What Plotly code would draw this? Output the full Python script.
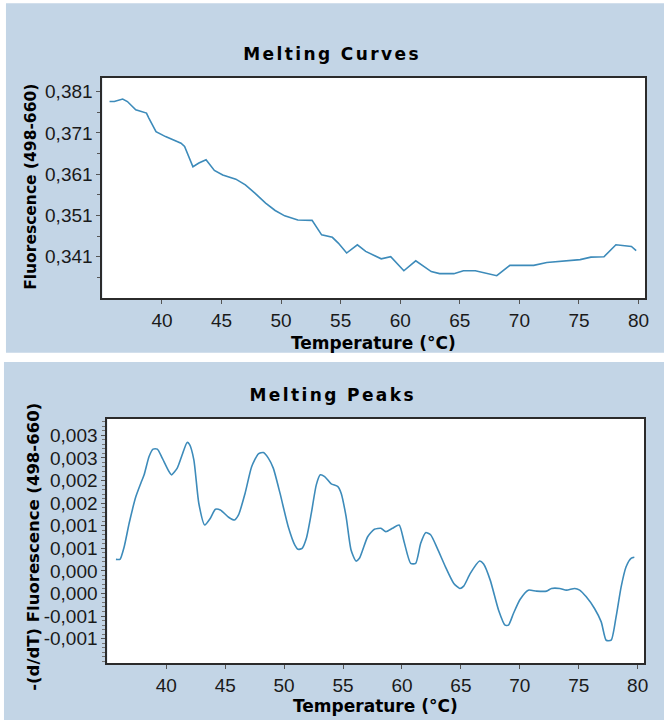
import numpy as np
import plotly.graph_objects as go

W, H = 668, 720

# ---- Melting curve: fluorescence (498-660) against temperature ----
curve_temp = [35.6, 36.0, 36.7, 37.1, 37.8, 38.7, 38.9, 39.5, 40.3, 41.6, 41.9,
              42.6, 43.1, 43.7, 44.4, 45.1, 46.2, 47.0, 47.8, 48.7, 49.5, 50.3,
              51.4, 52.6, 53.4, 54.3, 54.8, 55.5, 56.4, 57.1, 58.4, 59.2, 60.3,
              61.3, 62.6, 63.3, 64.5, 65.3, 66.3, 67.3, 68.1, 69.2, 71.2, 72.3,
              73.7, 75.1, 76.0, 77.1, 78.1, 78.9, 79.4, 79.8]
curve_fluor = [0.3786, 0.3786, 0.3792, 0.3786, 0.3766, 0.3758, 0.3746, 0.3713, 0.3701,
               0.3685, 0.3677, 0.3628, 0.3637, 0.3645, 0.3619, 0.3608, 0.3598, 0.3584,
               0.3564, 0.3540, 0.3522, 0.3509, 0.3499, 0.3498, 0.3463, 0.3457, 0.3443,
               0.3419, 0.3439, 0.3423, 0.3405, 0.3410, 0.3376, 0.3400, 0.3374, 0.3369,
               0.3369, 0.3376, 0.3376, 0.3369, 0.3364, 0.3389, 0.3389, 0.3396, 0.3399,
               0.3403, 0.3409, 0.3410, 0.3439, 0.3436, 0.3435, 0.3425]

# ---- Melting peaks: -(d/dT) fluorescence against temperature ----
peak_temp = [35.73, 36.07, 36.43, 36.85, 37.42, 37.84, 38.12, 38.54, 38.88, 39.24,
             39.66, 40.23, 40.45, 40.93, 41.35, 41.77, 41.97, 42.34, 42.76, 43.26,
             43.74, 44.17, 44.59, 45.29, 45.79, 46.13, 46.69, 47.25, 47.82, 48.24,
             48.66, 49.08, 49.65, 50.35, 50.91, 51.19, 51.53, 51.89, 52.31, 52.73,
             53.07, 53.44, 54.00, 54.56, 54.84, 55.26, 55.68, 56.10, 56.39, 57.09,
             57.66, 58.21, 58.63, 59.20, 59.76, 60.18, 60.74, 61.16, 61.59, 62.01,
             62.43, 63.00, 63.69, 64.40, 64.91, 65.24, 65.80, 66.59, 66.93, 67.49,
             68.20, 68.75, 69.04, 69.46, 70.02, 70.72, 71.42, 72.27, 72.69, 73.39,
             73.96, 74.66, 75.08, 75.64, 76.34, 76.91, 77.33, 77.75, 78.17, 78.60,
             79.02, 79.44, 79.72]
peak_deriv = [0.000455, 0.000455, 0.000734, 0.001254, 0.001844, 0.002141, 0.002326,
              0.002732, 0.002896, 0.002896, 0.002696, 0.002399, 0.002326, 0.002474,
              0.002770, 0.003043, 0.003000, 0.002659, 0.001697, 0.001216, 0.001365,
              0.001564, 0.001549, 0.001387, 0.001327, 0.001438, 0.001920, 0.002510,
              0.002792, 0.002820, 0.002696, 0.002474, 0.001920, 0.001178, 0.000772,
              0.000677, 0.000700, 0.000921, 0.001476, 0.002104, 0.002326, 0.002288,
              0.002126, 0.002066, 0.001920, 0.001400, 0.000661, 0.000417, 0.000477,
              0.000956, 0.001120, 0.001143, 0.001068, 0.001143, 0.001216, 0.000845,
              0.000366, 0.000366, 0.000810, 0.001046, 0.001000, 0.000699, 0.000290,
              -0.000078, -0.000189, -0.000138, 0.000144, 0.000417, 0.000350, -0.000005,
              -0.000670, -0.001003, -0.001000, -0.000744, -0.000433, -0.000227,
              -0.000249, -0.000249, -0.000189, -0.000189, -0.000227, -0.000189,
              -0.000227, -0.000375, -0.000633, -0.000930, -0.001336, -0.001336,
              -0.000819, -0.000153, 0.000290, 0.000477, 0.000500]

# ---- Axis ticks and labels ----
x_ticks = [40, 45, 50, 55, 60, 65, 70, 75, 80]
curve_y_ticks = [0.381, 0.371, 0.361, 0.351, 0.341]
curve_y_labels = ["0,381", "0,371", "0,361", "0,351", "0,341"]
peak_y_ticks = [0.0032, 0.0027, 0.0022, 0.0017, 0.0012, 0.0007, 0.0002,
                -0.0003, -0.0008, -0.0013]
peak_y_labels = ["0,003", "0,003", "0,002", "0,002", "0,001", "0,001",
                 "0,000", "0,000", "-0,001", "-0,001"]

x_range = [35.0, 80.55]
curve_y_range = [0.3310, 0.3843]
peak_y_range = [-0.00184, 0.003562]

PANEL = "#C3D5E6"
LINE = "#3D8BBA"
FRAME = "#2b2b2b"
TICK_FONT = dict(family="Liberation Sans, Arial, sans-serif", size=19, color="#1a1a1a")
BOLD = "DejaVu Sans, Verdana, sans-serif"


def px_x(p):
    return p / W


def px_y(p):
    return (H - p) / H


# minor ticks: halfway between labels on the curve plot, every 0.0001 on the peak plot
curve_minor = [v - 0.005 for v in curve_y_ticks]
peak_minor = [round(v, 5) for v in np.arange(-0.0018, 0.00355, 0.0001)
              if min(abs(v - t) for t in peak_y_ticks) > 1e-6]

fig = go.Figure()
fig.add_trace(go.Scatter(x=curve_temp, y=curve_fluor, mode="lines",
                         line=dict(color=LINE, width=1.6), xaxis="x", yaxis="y",
                         showlegend=False, hoverinfo="skip"))
fig.add_trace(go.Scatter(x=peak_temp, y=peak_deriv, mode="lines",
                         line=dict(color=LINE, width=1.6, shape="spline", smoothing=0.6),
                         xaxis="x2", yaxis="y2", showlegend=False, hoverinfo="skip"))

axis_common = dict(showline=True, linecolor=FRAME, linewidth=2, mirror=True,
                   showgrid=False, zeroline=False, ticks="outside", ticklen=4,
                   tickcolor="#555555", tickwidth=1, tickfont=TICK_FONT, fixedrange=True)

fig.update_layout(
    width=W, height=H,
    margin=dict(l=0, r=0, t=0, b=0),
    paper_bgcolor="white",
    plot_bgcolor="white",
    xaxis=dict(domain=[px_x(103), px_x(649)], range=x_range, anchor="y",
               tickvals=x_ticks, **axis_common),
    yaxis=dict(domain=[px_y(298), px_y(78)], range=curve_y_range, anchor="x",
               tickvals=curve_y_ticks, ticktext=curve_y_labels,
               minor=dict(tickmode="array", tickvals=curve_minor, ticks="outside",
                          ticklen=3, tickcolor="#555555"),
               **axis_common),
    xaxis2=dict(domain=[px_x(108), px_x(648)], range=x_range, anchor="y2",
                tickvals=x_ticks, **axis_common),
    yaxis2=dict(domain=[px_y(663), px_y(419)], range=peak_y_range, anchor="x2",
                tickvals=peak_y_ticks, ticktext=peak_y_labels,
                minor=dict(tickmode="array", tickvals=peak_minor, ticks="outside",
                           ticklen=3, tickcolor="#777777"),
                **axis_common),
    shapes=[
        # light blue panels behind each chart
        dict(type="rect", xref="paper", yref="paper", x0=px_x(6), x1=1.0,
             y0=px_y(352.7), y1=px_y(3.3), fillcolor=PANEL, line=dict(width=0),
             layer="below"),
        dict(type="rect", xref="paper", yref="paper", x0=px_x(4), x1=1.0,
             y0=0.0, y1=px_y(362), fillcolor=PANEL, line=dict(width=0),
             layer="below"),
        # white plotting areas on top of the panels
        dict(type="rect", xref="x domain", yref="y domain", x0=0, x1=1, y0=0, y1=1,
             fillcolor="white", line=dict(width=0), layer="below"),
        dict(type="rect", xref="x2 domain", yref="y2 domain", x0=0, x1=1, y0=0, y1=1,
             fillcolor="white", line=dict(width=0), layer="below"),
    ],
)


def label(text, x, y, size, angle=0):
    fig.add_annotation(text=text, x=px_x(x), y=px_y(y), xref="paper", yref="paper",
                       xanchor="center", yanchor="middle", showarrow=False,
                       textangle=angle,
                       font=dict(family=BOLD, size=size, color="black", weight="bold"))


label("Melting Curves", 334, 54, 17)
label("Melting Peaks", 334, 395, 17)
label("Temperature (°C)", 376, 343, 17)
label("Temperature (°C)", 378, 706, 17)
label("Fluorescence (498-660)", 31, 187, 15.5, -90)
label("-(d/dT) Fluorescence (498-660)", 33, 547, 16.5, -90)

# spread out the letters of the two chart headings
spacing_js = (
    "document.querySelectorAll('.annotation-text').forEach(function(t){"
    "if(t.textContent.indexOf('Melting')===0){t.style.letterSpacing='2.4px';}});"
)

fig.write_html("out.html", post_script=spacing_js)
